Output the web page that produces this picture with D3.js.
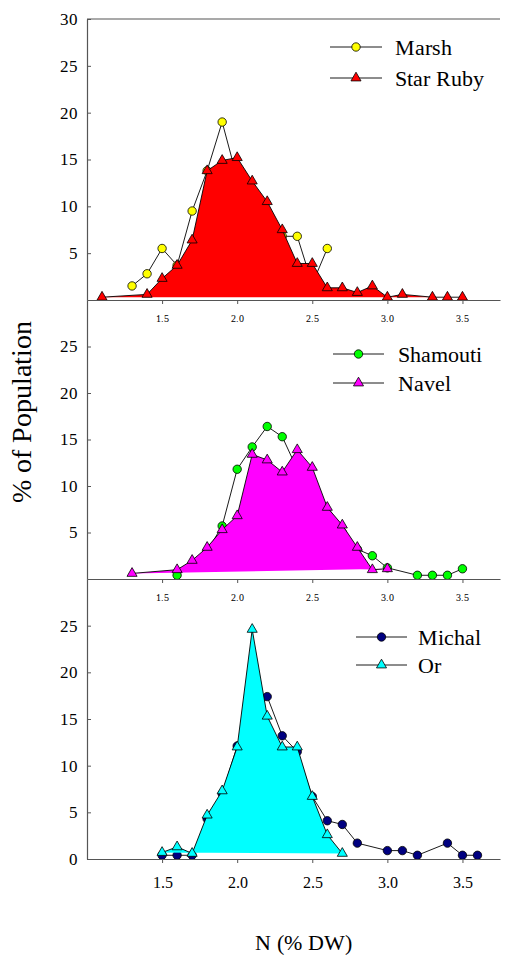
<!DOCTYPE html>
<html><head><meta charset="utf-8">
<script src="https://cdn.jsdelivr.net/npm/d3@7"></script>
<style>
  @font-face { font-family: "ChartSerif"; src: local("Liberation Serif"), local("LiberationSerif"), local("Liberation Serif Regular"), local("Times New Roman"); }
  svg text { font-family: "ChartSerif", "Liberation Serif", serif !important; }
</style>
</head><body style="margin:0">
<div id="c"></div>
<script>
//data (N in % DW, % of population)
const marshN = [1.3, 1.4, 1.5, 1.6, 1.7, 1.8, 1.9, 2.0, 2.1, 2.2, 2.3, 2.4, 2.5, 2.6];
const marshPct = [1.5, 2.8, 5.5, 3.7, 9.5, 13.8, 19.0, 13.0, 11.0, 9.0, 6.8, 6.8, 1.7, 5.5];
const starRubyN = [1.1, 1.4, 1.5, 1.6, 1.7, 1.8, 1.9, 2.0, 2.1, 2.2, 2.3, 2.4, 2.5, 2.6, 2.7, 2.8, 2.9, 3.0, 3.1, 3.3, 3.4, 3.5];
const starRubyPct = [0.3, 0.6, 2.3, 3.7, 6.4, 13.8, 14.9, 15.2, 12.7, 10.5, 7.5, 3.9, 3.9, 1.3, 1.3, 0.8, 1.5, 0.3, 0.6, 0.3, 0.3, 0.3];

const shamoutiN = [1.6, 1.7, 1.8, 1.9, 2.0, 2.1, 2.2, 2.3, 2.4, 2.5, 2.6, 2.7, 2.8, 2.9, 3.0, 3.2, 3.3, 3.4, 3.5];
const shamoutiPct = [0.4, 1.5, 3.0, 5.7, 11.8, 14.2, 16.4, 15.3, 11.8, 9.5, 7.0, 5.0, 3.2, 2.5, 1.2, 0.4, 0.4, 0.4, 1.1];
const navelN = [1.3, 1.6, 1.7, 1.8, 1.9, 2.0, 2.1, 2.2, 2.3, 2.4, 2.5, 2.6, 2.7, 2.8, 2.9, 3.0];
const navelPct = [0.6, 1.0, 2.0, 3.4, 5.3, 6.8, 13.4, 12.8, 11.5, 13.9, 12.0, 7.7, 5.8, 3.4, 1.0, 1.1];

const michalN = [1.5, 1.6, 1.7, 1.8, 1.9, 2.0, 2.1, 2.2, 2.3, 2.4, 2.5, 2.6, 2.7, 2.8, 3.0, 3.1, 3.2, 3.4, 3.5, 3.6];
const michalPct = [0.4, 0.4, 0.4, 4.3, 7.0, 12.1, 14.7, 17.4, 13.2, 11.5, 6.7, 4.1, 3.7, 1.7, 0.9, 0.9, 0.4, 1.7, 0.4, 0.4];
const orN = [1.5, 1.6, 1.7, 1.8, 1.9, 2.0, 2.1, 2.2, 2.3, 2.4, 2.5, 2.6, 2.7];
const orPct = [0.7, 1.3, 0.6, 4.7, 7.3, 12.0, 24.6, 15.3, 12.0, 12.0, 6.7, 2.6, 0.6];

const xTicks = [1.5, 2.0, 2.5, 3.0, 3.5];
const yTicksTop = [5, 10, 15, 20, 25, 30];
const yTicksMid = [5, 10, 15, 20, 25];
const yTicksBottom = [0, 5, 10, 15, 20, 25];

const width = 507, height = 956;
const left = 87, right = 500;
const axisColor = "#555";

//zip two arrays into points
function pts(xs, ys) { return xs.map((v, i) => ({n: v, p: ys[i]})); }

//panel setup (layout + styling, built from the arrays above)
const panels = [
    {top: 19, bottom: 300, yTicks: yTicksTop, frameTop: true,
     circ: {name: "Marsh", data: pts(marshN, marshPct), color: "#ffff00"},
     tri: {name: "Star Ruby", data: pts(starRubyN, starRubyPct), color: "#ff0000"},
     xFont: 10, xPad: 11, legend: {x1: 330, x2: 382, y: 47, gap: 31, tx: 395}},
    {top: 300, bottom: 579, yTicks: yTicksMid,
     circ: {name: "Shamouti", data: pts(shamoutiN, shamoutiPct), color: "#00ff00"},
     tri: {name: "Navel", data: pts(navelN, navelPct), color: "#ff00ff"},
     xFont: 10, xPad: 11, legend: {x1: 333, x2: 384, y: 354, gap: 29, tx: 398}},
    {top: 579, bottom: 859, yTicks: yTicksBottom,
     circ: {name: "Michal", data: pts(michalN, michalPct), color: "#000080"},
     tri: {name: "Or", data: pts(orN, orPct), color: "#00ffff"},
     xFont: 16, xPad: 14, legend: {x1: 356, x2: 407, y: 637, gap: 28, tx: 418}}
];

let svg = d3.select("#c").append("svg").attr("width", width).attr("height", height);

//x domain shared by all panels
let x = d3.scaleLinear()
    .domain([1.0, 3.75])
    .range([left, right]);

let triangle = d3.symbol().type(d3.symbolTriangle).size(44);

panels.forEach(function(pn) {
    let y = d3.scaleLinear()
        .domain([0, 30])
        .range([pn.bottom, pn.top]);

    let line = d3.line()
        .x(function(d) { return x(d.n); })
        .y(function(d) { return y(d.p); });

    //circle series: line then markers
    svg.append("path")
        .attr("d", line(pn.circ.data))
        .attr("fill", "none")
        .attr("stroke", "#000")
        .attr("stroke-width", 0.9);

    svg.append("g").selectAll("circle")
        .data(pn.circ.data)
        .enter()
        .append("circle")
        .attr("cx", function(d) { return x(d.n); })
        .attr("cy", function(d) { return y(d.p); })
        .attr("r", 4.2)
        .attr("fill", pn.circ.color)
        .attr("stroke", "#000")
        .attr("stroke-width", 0.8);

    //triangle series: filled polygon (closed first to last), line, markers
    svg.append("path")
        .attr("d", line(pn.tri.data) + "Z")
        .attr("fill", pn.tri.color)
        .attr("stroke", "none");

    svg.append("path")
        .attr("d", line(pn.tri.data))
        .attr("fill", "none")
        .attr("stroke", "#000")
        .attr("stroke-width", 0.9);

    svg.append("g").selectAll("path")
        .data(pn.tri.data)
        .enter()
        .append("path")
        .attr("d", triangle)
        .attr("transform", function(d) { return `translate(${x(d.n)},${y(d.p)})`; })
        .attr("fill", pn.tri.color)
        .attr("stroke", "#000")
        .attr("stroke-width", 0.8);

    //y axis, ticks pointing in
    let yAxis = svg.append("g")
        .attr("transform", `translate(${left},0)`)
        .call(d3.axisLeft(y).tickValues(pn.yTicks).tickSize(-4).tickSizeOuter(0).tickPadding(9));
    yAxis.selectAll("text").style("font-size", "17px");

    //x axis, ticks pointing out
    let xAxis = svg.append("g")
        .attr("transform", `translate(0,${pn.bottom})`)
        .call(d3.axisBottom(x).tickValues(xTicks).tickSize(4).tickSizeOuter(0)
            .tickPadding(pn.xPad).tickFormat(d3.format(".1f")));
    xAxis.selectAll("text").style("font-size", pn.xFont + "px");

    [yAxis, xAxis].forEach(function(a) {
        a.attr("font-family", null);
        a.selectAll("path, line").attr("stroke", axisColor);
        a.select(".domain").attr("stroke-width", 1.2);
    });

    if (pn.frameTop) {
        svg.append("line")
            .attr("x1", left).attr("x2", right)
            .attr("y1", pn.top).attr("y2", pn.top)
            .attr("stroke", axisColor)
            .attr("stroke-width", 1.2);
    }

    //legend
    let lg = pn.legend;
    let mid = (lg.x1 + lg.x2) / 2;
    [pn.circ, pn.tri].forEach(function(s, i) {
        let ly = lg.y + i * lg.gap;
        svg.append("line")
            .attr("x1", lg.x1).attr("x2", lg.x2)
            .attr("y1", ly).attr("y2", ly)
            .attr("stroke", "#000")
            .attr("stroke-width", 0.9);
        if (i === 0) {
            svg.append("circle")
                .attr("cx", mid).attr("cy", ly).attr("r", 4.2)
                .attr("fill", s.color).attr("stroke", "#000").attr("stroke-width", 0.8);
        } else {
            svg.append("path")
                .attr("d", triangle())
                .attr("transform", `translate(${mid},${ly})`)
                .attr("fill", s.color).attr("stroke", "#000").attr("stroke-width", 0.8);
        }
        svg.append("text")
            .attr("x", lg.tx)
            .attr("y", ly + 7.5)
            .style("font-size", "22px")
            .text(s.name);
    });
});

//y label
svg.append("text")
    .attr("transform", `translate(${31},${412}) rotate(-90)`)
    .attr("text-anchor", "middle")
    .style("font-size", "28px")
    .text("% of Population");

//x label
svg.append("text")
    .attr("x", 303)
    .attr("y", 950)
    .attr("text-anchor", "middle")
    .style("font-size", "22px")
    .text("N (% DW)");
</script></body></html>
